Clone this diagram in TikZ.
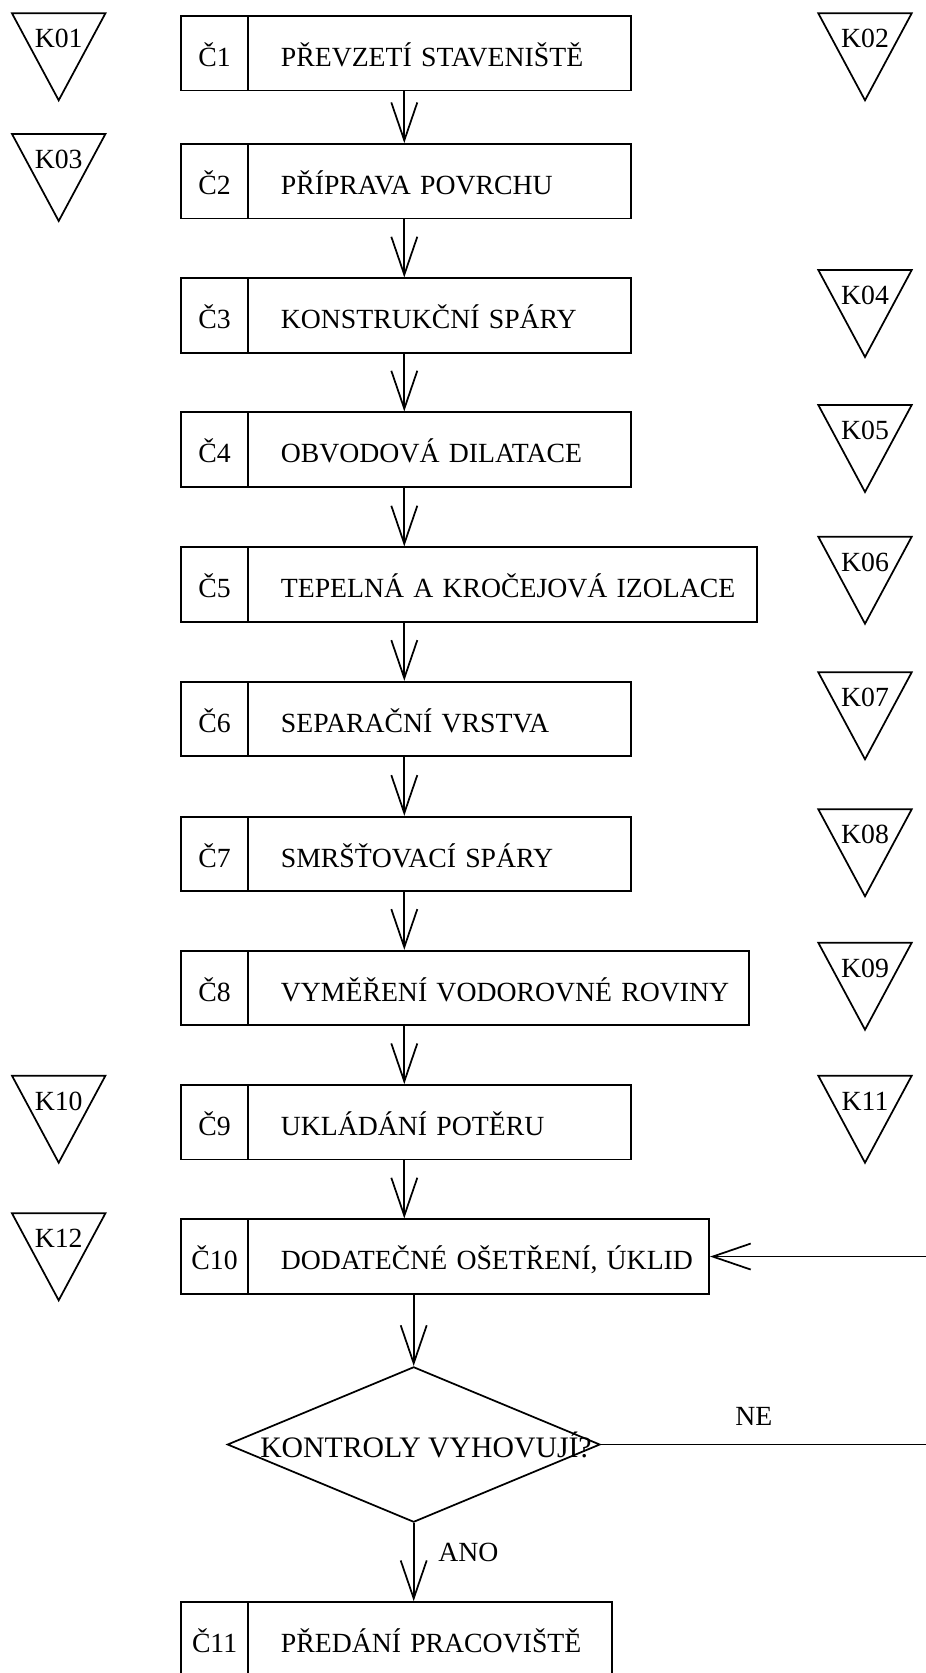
\documentclass[tikz,border=0pt]{standalone}
\usepackage{fontspec}
\setmainfont{Liberation Serif}
\usetikzlibrary{arrows.meta,shapes.geometric,calc}
\newcommand{\stepbox}[5]{%
  \node[numcell] (#1n) at (180,{#2+37.25}) {#3};
  \node[txtcell=#4] (#1) at (247.5,{#2+37.25}) {\hspace*{24.4pt}\mbox{#5}};
}
\newcommand{\kmark}[4]{%
  \draw[kline] ({#2-46.7},#3) -- ({#2+46.7},#3) -- (#2,{#3+87}) -- cycle;
  \node[klabel] (#1) at (#2,{#3+34.4}) {#4};
}
\begin{document}
\begin{tikzpicture}[x=0.75pt,y=-0.75pt,
  every node/.style={font=\fontsize{20.8pt}{24pt}\selectfont},
  numcell/.style={draw, line width=1.3pt, anchor=west, minimum width=50.6pt, minimum height=55.9pt, inner sep=0pt, text height=20pt, text depth=0pt},
  txtcell/.style={draw, line width=1.3pt, anchor=west, text width=#1, minimum height=55.9pt, inner sep=0pt, align=left, text height=20pt, text depth=0pt},
  arr/.style={draw, line width=1.3pt, -{Straight Barb[length=28.5pt,width=19.5pt]}},
  kline/.style={draw, line width=1.3pt, line join=miter},
  klabel/.style={anchor=base, inner sep=0pt},
  lbl/.style={anchor=base west, inner sep=0pt},
]
\useasboundingbox (0,0) rectangle (925,1673);

% process steps
\stepbox{c1}{16}{Č1}{286.9pt}{PŘEVZETÍ STAVENIŠTĚ}
\stepbox{c2}{144}{Č2}{286.9pt}{PŘÍPRAVA POVRCHU}
\stepbox{c3}{278.3}{Č3}{286.9pt}{KONSTRUKČNÍ SPÁRY}
\stepbox{c4}{412.3}{Č4}{286.9pt}{OBVODOVÁ DILATACE}
\stepbox{c5}{547.3}{Č5}{381.2pt}{TEPELNÁ A KROČEJOVÁ IZOLACE}
\stepbox{c6}{681.7}{Č6}{286.9pt}{SEPARAČNÍ VRSTVA}
\stepbox{c7}{816.7}{Č7}{286.9pt}{SMRŠŤOVACÍ SPÁRY}
\stepbox{c8}{950.7}{Č8}{375.6pt}{VYMĚŘENÍ VODOROVNÉ ROVINY}
\stepbox{c9}{1085}{Č9}{286.9pt}{UKLÁDÁNÍ POTĚRU}
\stepbox{c10}{1219.3}{Č10}{345.6pt}{DODATEČNÉ OŠETŘENÍ, ÚKLID}
\stepbox{c11}{1602}{Č11}{272.6pt}{PŘEDÁNÍ PRACOVIŠTĚ}

% control markers
\kmark{k01}{58.7}{13.3}{K01}
\kmark{k02}{865}{13.3}{K02}
\kmark{k03}{58.7}{134}{K03}
\kmark{k04}{865}{270}{K04}
\kmark{k05}{865}{405}{K05}
\kmark{k06}{865}{536.7}{K06}
\kmark{k07}{865}{672.3}{K07}
\kmark{k08}{865}{809.3}{K08}
\kmark{k09}{865}{942.7}{K09}
\kmark{k10}{58.7}{1075.7}{K10}
\kmark{k11}{865}{1075.7}{K11}
\kmark{k12}{58.7}{1213.3}{K12}

% axes for the vertical flow
\coordinate (ax) at (404.3,0);
\coordinate (ax2) at (413.7,0);
\coordinate (rx) at (950,0);

\foreach \a/\b in {c1/c2,c2/c3,c3/c4,c4/c5,c5/c6,c6/c7,c7/c8,c8/c9,c9/c10}
  \draw[arr] (\a.south -| ax) -- (\b.north -| ax);

% decision
\node[diamond, draw, line width=1.3pt, minimum width=279.5pt, minimum height=116.5pt, inner sep=0pt] (d) at (413.7,1444.5) {};
\node[lbl, font=\fontsize{22.3pt}{26pt}\selectfont] (dq) at (260,1457) {KONTROLY VYHOVUJÍ?};
\draw[arr] (c10.south -| ax2) -- (d.north);
\draw[arr] (d.south) -- (c11.north -| ax2);
\node[lbl] (ano) at (438,1561.7) {ANO};
\draw[arr] (d.east) -- (d.east -| rx) |- (c10.east);
\node[klabel] (ne) at (753.8,1425) {NE};
\end{tikzpicture}
\end{document}
